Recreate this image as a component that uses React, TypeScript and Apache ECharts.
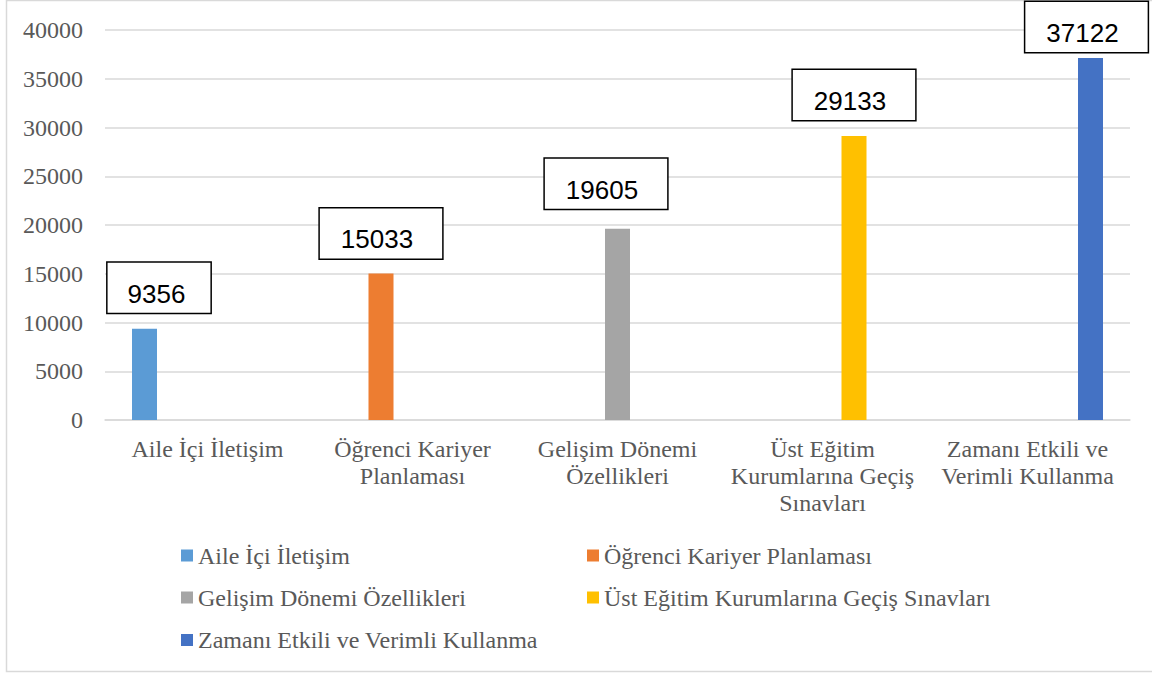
import React, { useEffect, useRef } from "react";
import * as echarts from "echarts";

const categories = [
  "Aile İçi İletişim",
  "Öğrenci Kariyer Planlaması",
  "Gelişim Dönemi Özellikleri",
  "Üst Eğitim Kurumlarına Geçiş Sınavları",
  "Zamanı Etkili ve Verimli Kullanma",
];
// axis tick labels as wrapped in the reference
const axisLabels = [
  "Aile İçi İletişim",
  "Öğrenci Kariyer\nPlanlaması",
  "Gelişim Dönemi\nÖzellikleri",
  "Üst Eğitim\nKurumlarına Geçiş\nSınavları",
  "Zamanı Etkili ve\nVerimli Kullanma",
];
const values = [9356, 15033, 19605, 29133, 37122];
const colors = ["#5B9BD5", "#ED7D31", "#A5A5A5", "#FFC000", "#4472C4"];
const yMin = 0;
const yMax = 40000;
const yInterval = 5000;

// label box placement (dx, gap above bar)
const labelPlacement = [
  [14.5, 16],
  [0, 15],
  [-11.5, 20],
  [0, 16],
  [-4, 6],
];
// legend positions [left, top] in legend order
const legendPlacement = [
  [181, 543.5],
  [587, 543.5],
  [181, 585.5],
  [587, 585.5],
  [181, 628],
];

const SERIF = "Liberation Serif";
const SANS = "Liberation Sans";
const GREY_TEXT = "#595959";
const GRID_LINE = "#d9d9d9";
const FS = 24;

export default function App() {
  const ref = useRef<HTMLDivElement>(null);

  useEffect(() => {
    if (!ref.current) return;
    const chart = echarts.init(ref.current, undefined, { renderer: "svg" });

    const series = categories.map((name, i) => ({
      name,
      type: "bar",
      barWidth: 25,
      barGap: "26%",
      itemStyle: { color: colors[i] },
      data: categories.map((_, j) => {
        if (j !== i) return "-";
        const digits = String(values[i]).length;
        return {
          value: values[i],
          label: {
            show: true,
            position: "top",
            distance: labelPlacement[i][1],
            offset: [labelPlacement[i][0], 0],
            fontFamily: SANS,
            fontSize: 26,
            lineHeight: 26,
            color: "#000",
            backgroundColor: "#fff",
            borderColor: "#000",
            borderWidth: 1.5,
            padding: digits >= 5 ? [18, 29, 6, 21] : [18, 25, 6, 20],
          },
        };
      }),
    }));

    const legends = categories.map((name, i) => ({
      data: [name],
      left: legendPlacement[i][0],
      top: legendPlacement[i][1],
      orient: "horizontal",
      icon: "rect",
      itemWidth: 12,
      itemHeight: 12,
      itemGap: 0,
      padding: 0,
      selectedMode: false,
      textStyle: {
        fontFamily: SERIF,
        fontSize: FS,
        lineHeight: 24,
        color: GREY_TEXT,
      },
    }));

    chart.setOption({
      animation: false,
      backgroundColor: "#fff",
      textStyle: { fontFamily: SERIF },
      graphic: [
        {
          type: "rect",
          shape: { x: 6.5, y: 0.5, width: 1170, height: 671 },
          style: { fill: "none", stroke: GRID_LINE, lineWidth: 1.5 },
          silent: true,
        },
      ],
      legend: legends,
      grid: { left: 105, right: 22, top: 30, bottom: 253, containLabel: false },
      xAxis: {
        type: "category",
        data: categories,
        axisTick: { show: false },
        axisLine: { show: true, lineStyle: { color: GRID_LINE, width: 1.5 } },
        axisLabel: {
          interval: 0,
          margin: 15,
          fontFamily: SERIF,
          fontSize: FS,
          lineHeight: 27,
          color: GREY_TEXT,
          formatter: (_v: string, idx: number) => axisLabels[idx],
        },
      },
      yAxis: {
        type: "value",
        min: yMin,
        max: yMax,
        interval: yInterval,
        axisLine: { show: false },
        axisTick: { show: false },
        splitLine: { lineStyle: { color: GRID_LINE, width: 1.5 } },
        axisLabel: {
          margin: 22,
          fontFamily: SERIF,
          fontSize: FS,
          color: GREY_TEXT,
          formatter: (v: number) => String(v),
        },
      },
      series,
    });

    return () => chart.dispose();
  }, []);

  return (
    <div
      ref={ref}
      style={{ position: "fixed", left: 0, top: 0, width: 1152, height: 673 }}
    />
  );
}
